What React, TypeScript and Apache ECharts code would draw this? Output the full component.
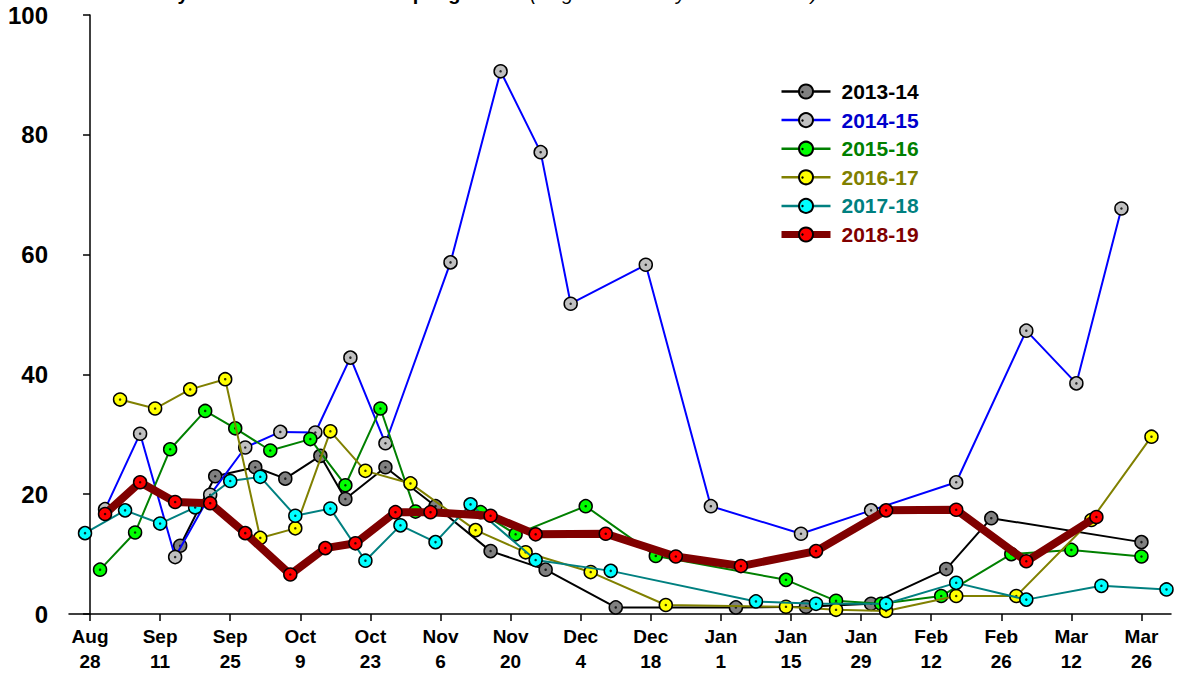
import React, { useEffect, useRef } from 'react';
import * as echarts from 'echarts';

// x values are days after Aug 28
const tickDays = [0, 14, 28, 42, 56, 70, 84, 98, 112, 126, 140, 154, 168, 182, 196, 210];
const tickLabels = ['Aug\n28', 'Sep\n11', 'Sep\n25', 'Oct\n9', 'Oct\n23', 'Nov\n6', 'Nov\n20', 'Dec\n4', 'Dec\n18', 'Jan\n1', 'Jan\n15', 'Jan\n29', 'Feb\n12', 'Feb\n26', 'Mar\n12', 'Mar\n26'];

const seasons = ['2013-14', '2014-15', '2015-16', '2016-17', '2017-18', '2018-19'];

const days1314 = [18, 25, 33, 39, 46, 51, 59, 69, 80, 91, 105, 129, 143, 156, 171, 180, 210];
const vals1314 = [11.4, 23.0, 24.5, 22.6, 26.4, 19.2, 24.5, 18.0, 10.5, 7.4, 1.1, 1.1, 1.2, 1.7, 7.5, 16.0, 12.0];

const days1415 = [3, 10, 17, 24, 31, 38, 45, 52, 59, 72, 82, 90, 96, 111, 124, 142, 156, 173, 187, 197, 206];
const vals1415 = [17.5, 30.1, 9.5, 19.9, 27.8, 30.4, 30.3, 42.8, 28.5, 58.7, 90.6, 77.1, 51.8, 58.3, 18.0, 13.4, 17.3, 22.0, 47.3, 38.5, 67.7];

const days1516 = [2, 9, 16, 23, 29, 36, 44, 51, 58, 65, 78, 85, 99, 113, 139, 149, 158, 170, 184, 196, 210];
const vals1516 = [7.4, 13.6, 27.5, 33.9, 31.0, 27.3, 29.2, 21.5, 34.3, 17.1, 17.0, 13.3, 18.0, 9.7, 5.7, 2.2, 1.7, 3.0, 10.0, 10.7, 9.6];

const days1617 = [6, 13, 20, 27, 34, 41, 48, 55, 64, 77, 87, 100, 115, 139, 149, 159, 173, 185, 200, 212];
const vals1617 = [35.8, 34.3, 37.5, 39.2, 12.7, 14.3, 30.5, 23.9, 21.8, 14.0, 10.3, 7.0, 1.5, 1.2, 0.7, 0.5, 3.0, 3.0, 15.7, 29.6];

const days1718 = [-1, 7, 14, 21, 28, 34, 41, 48, 55, 62, 69, 76, 89, 104, 133, 145, 159, 173, 187, 202, 215];
const vals1718 = [13.5, 17.3, 15.1, 17.8, 22.2, 22.9, 16.4, 17.6, 8.9, 14.8, 12.0, 18.3, 9.0, 7.2, 2.1, 1.7, 1.7, 5.2, 2.4, 4.7, 4.1];

const days1819 = [3, 10, 17, 24, 31, 40, 47, 53, 61, 68, 80, 89, 103, 117, 130, 145, 159, 173, 187, 201];
const vals1819 = [16.7, 22.0, 18.7, 18.5, 13.5, 6.6, 11.0, 11.8, 17.0, 17.0, 16.4, 13.3, 13.4, 9.6, 8.0, 10.5, 17.3, 17.4, 8.8, 16.2];

const allDays = [days1314, days1415, days1516, days1617, days1718, days1819];
const allVals = [vals1314, vals1415, vals1516, vals1617, vals1718, vals1819];

const lineColors = ['#000000', '#0000FF', '#008000', '#808000', '#008080', '#800000'];
const markerColors = ['#808080', '#C0C0C0', '#00FF00', '#FFFF00', '#00FFFF', '#FF0000'];
const textColors = ['#000000', '#0000CC', '#008000', '#808000', '#008080', '#800000'];
const lineWidths = [2, 2, 2, 2, 2, 8];
const legendLineWidths = [2.5, 2.5, 2.5, 2.5, 2.5, 7];

const FONT = 'Arial, "Liberation Sans", Helvetica, sans-serif';

export default function App() {
  const ref = useRef<HTMLDivElement>(null);

  useEffect(() => {
    if (!ref.current) return;
    const chart = echarts.init(ref.current, undefined, { renderer: 'svg' });

    const series: any[] = [];
    seasons.forEach((name, i) => {
      const data = allDays[i].map((d, k) => [d, allVals[i][k]]);
      series.push({
        name,
        type: 'line',
        z: 10 + i * 2,
        data,
        symbol: 'circle',
        symbolSize: 13,
        showAllSymbol: true,
        lineStyle: { color: lineColors[i], width: lineWidths[i] },
        itemStyle: { color: markerColors[i], borderColor: '#000', borderWidth: 1.5 },
        emphasis: { disabled: true },
      });
      series.push({
        name: name + ' dot',
        type: 'scatter',
        z: 11 + i * 2,
        data,
        symbol: 'circle',
        symbolSize: 2.5,
        itemStyle: { color: '#000' },
        silent: true,
      });
    });

    const legendTop = 81;
    const legendStep = 28.5;

    const graphics: any[] = [
      {
        type: 'text',
        x: 120,
        y: 3,
        style: {
          text: 'Weekly Total Counts from Sampling',
          font: `bold 20px ${FONT}`,
          fill: '#000',
          verticalAlign: 'bottom',
        },
      },
      {
        type: 'text',
        x: 530,
        y: 3,
        style: {
          text: '(Regional Weekly Mean Counts)',
          font: `italic 20px ${FONT}`,
          fill: '#000',
          verticalAlign: 'bottom',
        },
      },
    ];
    seasons.forEach((_, i) => {
      graphics.push({
        type: 'circle',
        shape: { cx: 802.5, cy: legendTop + 11 + i * legendStep, r: 1.2 },
        style: { fill: '#000' },
        z: 100,
      });
    });

    chart.setOption({
      animation: false,
      backgroundColor: '#fff',
      grid: { left: 69, right: 8, top: 15, bottom: 59, containLabel: false },
      xAxis: {
        type: 'value',
        min: -4.2,
        max: 215.9,
        axisLine: { show: true, lineStyle: { color: '#000', width: 1.5 } },
        axisTick: { show: true, customValues: tickDays, length: 7, lineStyle: { color: '#000', width: 1.5 } },
        axisLabel: {
          customValues: tickDays,
          formatter: (v: number) => tickLabels[tickDays.indexOf(Math.round(v))] ?? '',
          color: '#000',
          fontFamily: FONT,
          fontWeight: 'bold',
          fontSize: 19,
          lineHeight: 25,
          margin: 10,
        },
        splitLine: { show: false },
      },
      yAxis: {
        type: 'value',
        min: 0,
        max: 100,
        interval: 20,
        axisLine: { show: true, lineStyle: { color: '#000', width: 1.5 } },
        axisTick: { show: true, length: 7, lineStyle: { color: '#000', width: 1.5 } },
        axisLabel: {
          color: '#000',
          fontFamily: FONT,
          fontWeight: 'bold',
          fontSize: 24,
          margin: 21,
        },
        splitLine: { show: false },
      },
      legend: {
        orient: 'vertical',
        left: 778,
        top: legendTop,
        itemWidth: 49,
        itemHeight: 17.5,
        itemGap: 7.6,
        padding: 0,
        selectedMode: false,
        data: seasons.map((s, i) => ({
          name: s,
          textStyle: { color: textColors[i] },
          lineStyle: { color: lineColors[i], width: legendLineWidths[i] },
        })),
        textStyle: {
          fontFamily: FONT,
          fontWeight: 'bold',
          fontSize: 21,
          lineHeight: 20,
          padding: [0, 0, 0, 6],
        },
      },
      graphic: graphics,
      series,
    });

    return () => chart.dispose();
  }, []);

  return (
    <div
      ref={ref}
      style={{ position: 'absolute', left: 0, top: 0, width: 1179, height: 674 }}
    />
  );
}
